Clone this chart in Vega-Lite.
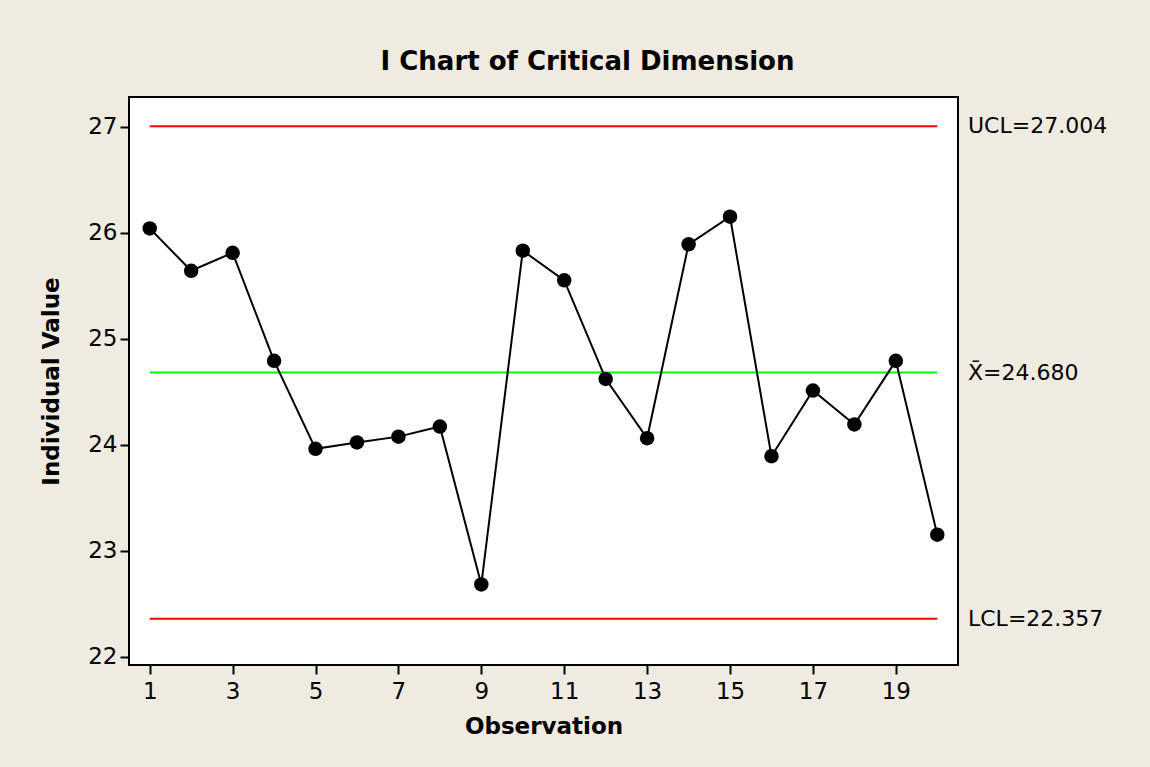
{
  "$schema": "https://vega.github.io/schema/vega-lite/v6.json",
  "width": 829,
  "height": 568,
  "autosize": {"type": "none"},
  "padding": {"left": 129, "top": 97, "right": 192, "bottom": 102},
  "background": "#EFEBE1",
  "title": {
    "text": "I Chart of Critical Dimension",
    "font": "DejaVu Sans",
    "fontSize": 26,
    "fontWeight": "bold",
    "color": "black",
    "anchor": "middle",
    "dx": 44,
    "offset": 22
  },
  "config": {
    "view": {"stroke": "black", "strokeWidth": 2, "fill": "white"},
    "axis": {
      "labelFont": "DejaVu Sans",
      "labelFontSize": 23,
      "labelColor": "black",
      "titleFont": "DejaVu Sans",
      "titleFontSize": 23,
      "titleFontWeight": "bold",
      "titleColor": "black",
      "tickColor": "black",
      "tickWidth": 2,
      "tickSize": 9,
      "domain": false,
      "grid": false
    }
  },
  "datasets": {
    "obs": [
      {"Observation": 1, "Value": 26.04},
      {"Observation": 2, "Value": 25.64},
      {"Observation": 3, "Value": 25.81},
      {"Observation": 4, "Value": 24.79},
      {"Observation": 5, "Value": 23.96},
      {"Observation": 6, "Value": 24.02},
      {"Observation": 7, "Value": 24.075},
      {"Observation": 8, "Value": 24.17},
      {"Observation": 9, "Value": 22.68},
      {"Observation": 10, "Value": 25.83},
      {"Observation": 11, "Value": 25.55},
      {"Observation": 12, "Value": 24.62},
      {"Observation": 13, "Value": 24.06},
      {"Observation": 14, "Value": 25.89},
      {"Observation": 15, "Value": 26.15},
      {"Observation": 16, "Value": 23.89},
      {"Observation": 17, "Value": 24.51},
      {"Observation": 18, "Value": 24.19},
      {"Observation": 19, "Value": 24.79},
      {"Observation": 20, "Value": 23.15}
    ],
    "limits": [
      {"label": "UCL=27.004", "value": 27.004, "kind": "UCL"},
      {"label": "X̄=24.680", "value": 24.68, "kind": "CL"},
      {"label": "LCL=22.357", "value": 22.357, "kind": "LCL"}
    ]
  },
  "layer": [
    {
      "data": {"name": "limits"},
      "mark": {"type": "rule", "strokeWidth": 2},
      "encoding": {
        "x": {"datum": 1, "type": "quantitative"},
        "x2": {"datum": 20},
        "y": {"field": "value", "type": "quantitative"},
        "color": {
          "field": "kind",
          "type": "nominal",
          "scale": {"domain": ["UCL", "CL", "LCL"], "range": ["#FF0000", "#00FF00", "#FF0000"]},
          "legend": null
        }
      }
    },
    {
      "data": {"name": "limits"},
      "mark": {"type": "text", "align": "left", "baseline": "middle", "dx": 10, "font": "DejaVu Sans", "fontSize": 22, "color": "black", "clip": false},
      "encoding": {
        "x": {"datum": 20.5, "type": "quantitative"},
        "y": {"field": "value", "type": "quantitative"},
        "text": {"field": "label"}
      }
    },
    {
      "data": {"name": "obs"},
      "mark": {"type": "line", "color": "black", "strokeWidth": 2},
      "encoding": {
        "x": {
          "field": "Observation",
          "type": "quantitative",
          "scale": {"domain": [0.5, 20.5], "nice": false, "zero": false},
          "axis": {"values": [1, 3, 5, 7, 9, 11, 13, 15, 17, 19], "format": "d", "title": "Observation", "labelPadding": 6, "titlePadding": 12}
        },
        "y": {
          "field": "Value",
          "type": "quantitative",
          "scale": {"domain": [21.92, 27.28], "nice": false, "zero": false},
          "axis": {"values": [22, 23, 24, 25, 26, 27], "format": "d", "title": "Individual Value", "labelPadding": 3, "titlePadding": 24}
        }
      }
    },
    {
      "data": {"name": "obs"},
      "mark": {"type": "circle", "color": "black", "opacity": 1, "size": 210},
      "encoding": {
        "x": {"field": "Observation", "type": "quantitative"},
        "y": {"field": "Value", "type": "quantitative"}
      }
    }
  ]
}
